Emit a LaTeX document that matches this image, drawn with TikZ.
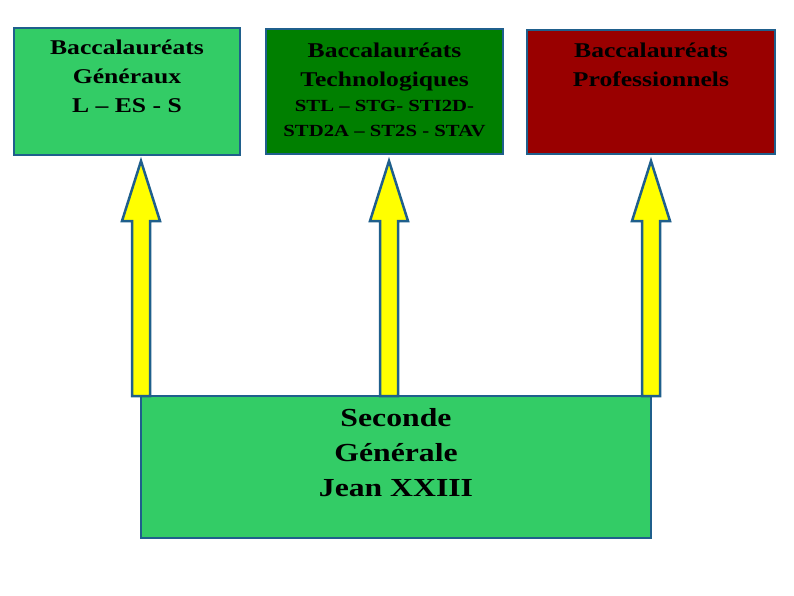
\documentclass[tikz,border=0pt]{standalone}
\usepackage{fontspec}
\setmainfont[FakeStretch=1.22]{Liberation Serif}
\usepackage{tikz}
\usetikzlibrary{positioning, calc}

\definecolor{bordblue}{HTML}{1F5F8C}
\definecolor{lightgreen}{HTML}{33CC66}
\definecolor{darkgreen}{HTML}{007F00}
\definecolor{darkred}{HTML}{990000}
\definecolor{arrowyellow}{HTML}{FFFF00}

% block arrow from a base point up to a tip point
\newcommand{\uparrowblock}[2]{%
  \draw[blockarrow] ($(#1)+(-9,0)$) -- ($(#2)+(-9,60)$) -- ($(#2)+(-19,60)$) -- (#2)
    -- ($(#2)+(19,60)$) -- ($(#2)+(9,60)$) -- ($(#1)+(9,0)$) -- cycle;}

\begin{document}
\begin{tikzpicture}[x=1pt, y=-1pt,
    bac/.style = {draw=bordblue, line width=2.5pt, rectangle, inner sep=0pt, outer sep=0pt},
    title/.style = {inner sep=0pt, align=center, font=\bfseries\fontsize{21}{29}\selectfont},
    subtitle/.style = {inner sep=0pt, align=center, font=\bfseries\fontsize{17}{25}\selectfont},
    bigtitle/.style = {inner sep=0pt, align=center, font=\bfseries\fontsize{26}{35}\selectfont},
    blockarrow/.style = {draw=bordblue, line width=2.5pt, fill=arrowyellow, line join=miter}]
    \useasboundingbox (0,0) rectangle (794,595);

    % Boxes
    \node[bac, fill=lightgreen, anchor=north west, minimum width=226pt, minimum height=127pt] (gen) at (14,28) {};
    \node[bac, fill=darkgreen, anchor=north west, minimum width=237pt, minimum height=125pt] (techno) at (266,29) {};
    \node[bac, fill=darkred, anchor=north west, minimum width=248pt, minimum height=124pt] (pro) at (527,30) {};
    \node[bac, fill=lightgreen, anchor=north west, minimum width=510pt, minimum height=142pt] (sec) at (141,396) {};

    % Texts
    \node[title, anchor=north] (gentxt) at ([yshift=-12pt]gen.north) {Baccalauréats\\Généraux\\L – ES - S};
    \node[title, anchor=north] (technotxt) at ([yshift=-14pt]techno.north) {Baccalauréats\\Technologiques};
    \node[subtitle, anchor=north] (technosub) at ([yshift=-8pt]technotxt.south) {STL – STG- STI2D-\\STD2A – ST2S - STAV};
    \node[title, anchor=north] (protxt) at ([yshift=-13pt]pro.north) {Baccalauréats\\Professionnels};
    \node[bigtitle, anchor=north] (sectxt) at ([yshift=-12pt]sec.north) {Seconde\\Générale\\Jean XXIII};

    % Arrows
    \coordinate (top) at (0,161);
    \coordinate (base2) at (389,396);
    \coordinate (tip1) at (sec.north west |- top);
    \coordinate (tip2) at (base2 |- top);
    \coordinate (tip3) at (sec.north east |- top);
    \uparrowblock{sec.north west}{tip1}
    \uparrowblock{base2}{tip2}
    \uparrowblock{sec.north east}{tip3}
\end{tikzpicture}
\end{document}
